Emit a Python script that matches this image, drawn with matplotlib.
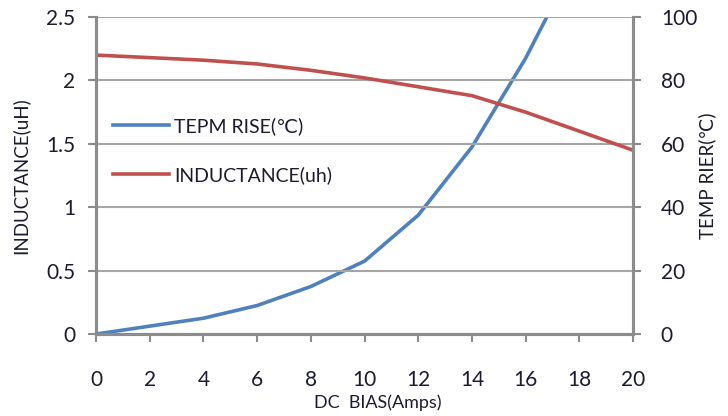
import matplotlib
matplotlib.use("Agg")
import matplotlib.pyplot as plt

plt.rcParams['font.family'] = ['Lato', 'DejaVu Sans']

dc_bias = [0, 2, 4, 6, 8, 10, 12, 14, 16, 18, 20]
inductance = [2.2, 2.18, 2.16, 2.13, 2.08, 2.02, 1.95, 1.88, 1.75, 1.6, 1.45]
temp_rise = [0, 2.5, 5, 9, 15, 23, 37.5, 59, 87, 120, 155]

blue = '#4f81bd'
red = '#c0504d'
grey = '#8c8c8c'
txt = '#1c1c30'

fig = plt.figure(figsize=(7.28, 4.16), dpi=100)
ax = fig.add_axes([0.132, 0.197, 0.7375, 0.762])
ax2 = ax.twinx()

l2, = ax2.plot(dc_bias, temp_rise, color=blue, lw=2.6, label='TEPM RISE(℃)')
l1, = ax.plot(dc_bias, inductance, color=red, lw=2.6, label='INDUCTANCE(uh)')
ax.set_zorder(2)
ax.patch.set_visible(False)

ax.set_xlim(0, 20)
ax.set_ylim(0, 2.5)
ax2.set_ylim(0, 100)
ax.set_xticks(range(0, 21, 2))
ax.set_yticks([0, 0.5, 1, 1.5, 2, 2.5])
ax.set_yticklabels(['0', '0.5', '1', '1.5', '2', '2.5'])
ax2.set_yticks(range(0, 101, 20))

ax.grid(axis='y', color='#a6a6a6', lw=1.5)
ax.set_axisbelow(True)

for a in (ax, ax2):
    for s in a.spines.values():
        s.set_color(grey)
        s.set_linewidth(2.2)
    a.spines['top'].set_visible(False)
ax.tick_params(axis='y', length=6, width=1.5, color=grey, labelsize=15, labelcolor=txt, pad=9)
ax.tick_params(axis='x', length=6, width=1.5, color=grey, labelsize=15, labelcolor=txt, pad=20)
ax2.tick_params(axis='y', length=6, width=1.5, color=grey, labelsize=15, labelcolor=txt, pad=14)

ax.set_xlabel('DC  BIAS(Amps)', fontsize=13, color=txt, labelpad=3)
ax.xaxis.label.set_x(0.525)
ax.set_ylabel('INDUCTANCE(uH)', fontsize=13.5, color=txt, labelpad=12)
ax2.set_ylabel('TEMP RIER(℃)', fontsize=13.5, color=txt, labelpad=1)

ax.legend(handles=[l2, l1], loc='upper left', bbox_to_anchor=(0.017, 0.71), borderaxespad=0,
          frameon=False, fontsize=14, labelcolor=txt, handlelength=2.9, handletextpad=0.25,
          labelspacing=1.6)

fig.savefig('out.png', dpi=100)
